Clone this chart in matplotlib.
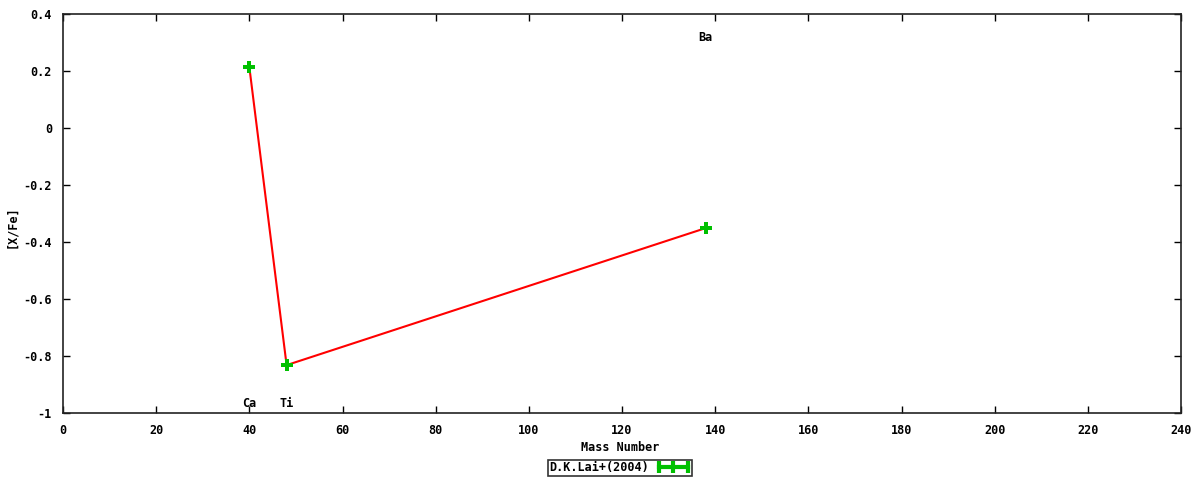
import matplotlib
matplotlib.use("Agg")
import matplotlib.pyplot as plt
from matplotlib.lines import Line2D

# === Data ===
elements = ["Ca", "Ti", "Ba"]
mass_number = [40, 48, 138]
x_fe = [0.214, -0.832, -0.351]
label_y = [-0.965, -0.965, 0.316]
legend_label = "D.K.Lai+(2004)"

green = "#00c000"
plt.rcParams['font.family'] = ['DejaVu Sans Mono']
plt.rcParams['font.weight'] = 'bold'
plt.rcParams['font.size'] = 8.5

fig = plt.figure(figsize=(12, 4.8), dpi=100)
ax = fig.add_axes([63 / 1200, 1 - 413 / 480, (1181 - 63) / 1200, (413 - 14) / 480])

# connecting line, then points
ax.plot(mass_number, x_fe, color='red', linewidth=1.5, zorder=2)
ax.plot(mass_number, x_fe, linestyle='none', marker='P', markersize=9,
        color=green, markeredgewidth=0, zorder=3)

for el, m, ly in zip(elements, mass_number, label_y):
    ax.text(m, ly, el, ha='center', va='center', fontweight='bold')

ax.set_xlim(0, 240)
ax.set_ylim(-1, 0.4)
ax.set_xticks(range(0, 241, 20))
ax.set_yticks([-1, -0.8, -0.6, -0.4, -0.2, 0, 0.2, 0.4])
ax.set_yticklabels(["-1", "-0.8", "-0.6", "-0.4", "-0.2", "0", "0.2", "0.4"])
ax.tick_params(direction='in', length=5, width=1, top=True, right=True, pad=8)
for spine in ax.spines.values():
    spine.set_linewidth(1.2)
    spine.set_color('#222222')

ax.set_xlabel("Mass Number", fontweight='bold')
ax.set_ylabel("[X/Fe]", fontweight='bold', va='center')
ax.xaxis.set_label_coords((620 - 63) / 1118, (413 - 441) / 399)
ax.yaxis.set_label_coords((12 - 63) / 1118, (413 - 227) / 399)

handle = Line2D([], [], color=green, linewidth=3, marker='|', markersize=9,
                markeredgewidth=3)
leg = fig.legend([handle], [legend_label], loc='center', bbox_to_anchor=(620 / 1200, 1 - 468 / 480),
                 frameon=True, fancybox=False, numpoints=3, markerfirst=False,
                 handlelength=3.0, handletextpad=0.6, borderpad=0.1, borderaxespad=0,
                 prop={'family': 'DejaVu Sans Mono', 'weight': 'bold', 'size': 8.5})
leg.get_frame().set_edgecolor('black')
leg.get_frame().set_linewidth(1.2)

fig.savefig("out.png", dpi=100)
